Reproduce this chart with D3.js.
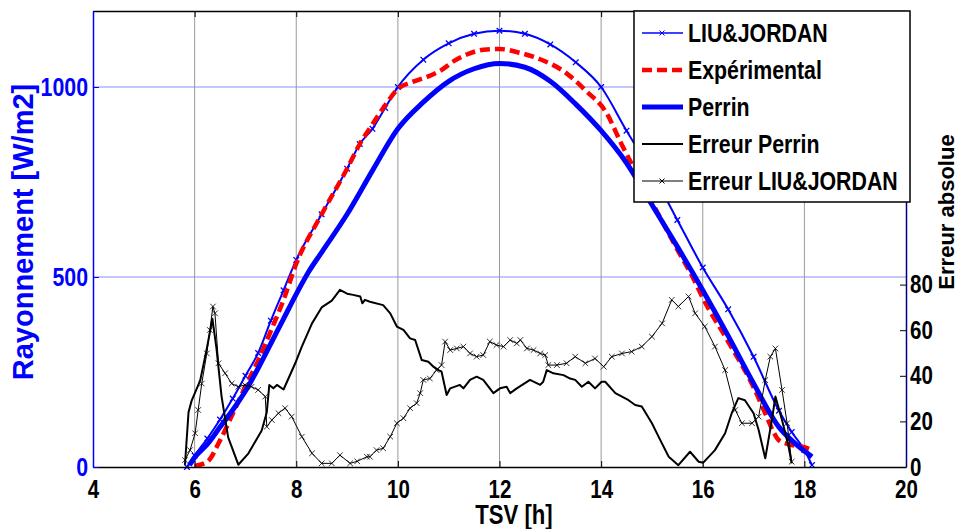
<!DOCTYPE html>
<html>
<head>
<meta charset="utf-8">
<script src="https://cdn.jsdelivr.net/npm/d3@7"></script>
<style>
  html, body { margin: 0; padding: 0; background: #fff; }
  svg { display: block; }
  text { font-family: "Liberation Sans", Arial, sans-serif; font-weight: bold; }
</style>
</head>
<body>
<svg id="chart"></svg>
<script>
'use strict';

const WIDTH = 959;
const HEIGHT = 529;
const M = { left: 93, top: 11, right: 53, bottom: 62 };
// la police d'origine est étroite : on resserre les textes de ce facteur
const NARROW = 0.82;

// TSV [h] ticks and axis ranges
const X_TICKS = [4, 6, 8, 10, 12, 14, 16, 18, 20];
const Y_LEFT_TICKS = [0, 500, 1000];
const Y_RIGHT_TICKS = [0, 20, 40, 60, 80];

// rayonnement [W/m2], [TSV, valeur]
const liuJordan = [
  [5.85, 0], [6.0, 30], [6.25, 75], [6.5, 125], [6.75, 180], [7.0, 240], [7.25, 300],
  [7.5, 385], [7.75, 465], [8.0, 545], [8.5, 665], [9.0, 785], [9.25, 850], [9.5, 890],
  [9.75, 945], [10.0, 1000], [10.5, 1072], [11.0, 1115], [11.5, 1140], [12.0, 1148],
  [12.5, 1140], [13.0, 1112], [13.5, 1065], [14.0, 1000], [14.5, 885], [15.0, 775],
  [15.5, 650], [16.0, 525], [16.5, 415], [17.0, 290], [17.5, 148], [17.75, 92],
  [18.0, 45], [18.15, 5]
];

const experimental = [
  [6.0, 3], [6.25, 14], [6.5, 70], [6.75, 140], [7.0, 212], [7.25, 280], [7.5, 358],
  [7.75, 440], [8.0, 535], [8.5, 665], [9.0, 785], [9.25, 850], [9.5, 902], [9.75, 952],
  [10.0, 995], [10.3, 1014], [10.6, 1028], [10.85, 1044], [11.1, 1068], [11.4, 1088],
  [11.75, 1099], [12.0, 1100], [12.4, 1090], [12.8, 1073], [13.3, 1038], [13.7, 990],
  [14.1, 933], [14.4, 850], [14.75, 760], [15.0, 697], [15.5, 572], [15.8, 500],
  [16.0, 445], [16.5, 330], [17.0, 210], [17.25, 135], [17.4, 90], [17.5, 70],
  [17.75, 58], [18.0, 52], [18.15, 45]
];

const perrin = [
  [5.9, 5], [6.0, 25], [6.25, 60], [6.5, 105], [6.75, 150], [7.0, 200], [7.25, 260],
  [7.5, 325], [7.75, 390], [8.0, 455], [8.25, 515], [8.5, 565], [9.0, 665], [9.5, 780],
  [10.0, 890], [10.5, 960], [11.0, 1015], [11.5, 1048], [12.0, 1062], [12.5, 1052],
  [13.0, 1015], [13.5, 955], [14.0, 885], [14.5, 800], [15.0, 690], [15.5, 580],
  [16.0, 465], [16.5, 345], [17.0, 220], [17.5, 105], [17.75, 70], [18.0, 42], [18.15, 27]
];

// erreur absolue (axe de droite)
const erreurPerrin = [
  [5.81, 1], [5.88, 24], [5.94, 29], [6.11, 38], [6.24, 52], [6.35, 65], [6.43, 52],
  [6.53, 31], [6.66, 13], [6.86, 1], [7.06, 6], [7.32, 16], [7.42, 24], [7.47, 36],
  [7.55, 34.5], [7.62, 36], [7.75, 34], [7.98, 45.5], [8.11, 52.8], [8.31, 63], [8.5, 70],
  [8.7, 73], [8.86, 77.7], [9.0, 76], [9.12, 75.5], [9.26, 74.8], [9.3, 71.8], [9.35, 73.3],
  [9.45, 72.5], [9.71, 71], [9.85, 67.4], [9.98, 61.6], [10.11, 60.1], [10.24, 56.4],
  [10.34, 55.7], [10.47, 46.9], [10.6, 46.2], [10.7, 44], [10.8, 42.5], [10.86, 41.8],
  [10.96, 31.6], [11.03, 34.5], [11.22, 36], [11.29, 34.5], [11.42, 38.2], [11.55, 39.6],
  [11.68, 38.2], [11.88, 32.4], [12.01, 34.5], [12.14, 35.2], [12.21, 32.4], [12.34, 34.5],
  [12.6, 38.2], [12.8, 36], [12.86, 37.4], [12.93, 42.5], [13.06, 41.1], [13.26, 40.3],
  [13.39, 38.8], [13.49, 38.2], [13.62, 35.2], [13.75, 37.4], [13.88, 34.5], [14.01, 37.4],
  [14.08, 37.4], [14.28, 32.4], [14.54, 29.3], [14.67, 27.2], [14.8, 26.5], [15.0, 19.2],
  [15.13, 13.3], [15.33, 4.5], [15.52, 0.8], [15.75, 6.7], [15.92, 2.3], [16.01, 1.9],
  [16.24, 7.4], [16.44, 14.8], [16.57, 23.6], [16.7, 30.2], [16.83, 29.3], [17.0, 23.6],
  [17.1, 16.2], [17.23, 3.8], [17.36, 20.6], [17.43, 30.9], [17.56, 20.6], [17.69, 8.9],
  [17.75, 1.6]
];

const erreurLiu = [
  [5.81, 3], [5.91, 7.4], [6.01, 14.8], [6.07, 25], [6.14, 36.6], [6.24, 49.8], [6.3, 60.1],
  [6.36, 70.4], [6.4, 67.4], [6.47, 45.5], [6.6, 41.1], [6.73, 36.6], [6.86, 35.2],
  [6.99, 36], [7.12, 35.2], [7.25, 33.8], [7.39, 30.9], [7.42, 17.7], [7.52, 20.6],
  [7.65, 23.6], [7.78, 25.8], [7.91, 22.1], [8.11, 13.3], [8.31, 6], [8.5, 1.6], [8.7, 1.6],
  [8.86, 5.2], [9.06, 1.6], [9.2, 2.5], [9.39, 4.5], [9.45, 4.5], [9.58, 7.4], [9.71, 8.2],
  [9.85, 13.3], [9.98, 19.2], [10.11, 21.4], [10.24, 25.8], [10.37, 28], [10.44, 32.4],
  [10.5, 38.2], [10.63, 38.8], [10.76, 42.5], [10.86, 44.7], [10.93, 55], [11.03, 51.3],
  [11.16, 52], [11.29, 52.8], [11.42, 49.8], [11.55, 48.4], [11.68, 49.1], [11.81, 55],
  [11.94, 53.5], [12.08, 52.8], [12.21, 55.7], [12.34, 54.2], [12.41, 55.7], [12.54, 52],
  [12.67, 51.3], [12.8, 49.8], [12.9, 49.1], [12.96, 44.7], [13.13, 44.7], [13.32, 45.5],
  [13.49, 48.4], [13.69, 45.5], [13.88, 47.6], [14.05, 44], [14.21, 48.4], [14.41, 49.8],
  [14.6, 50.6], [14.8, 52.8], [15.0, 57.2], [15.2, 63], [15.39, 73.3], [15.52, 70.4],
  [15.72, 74.8], [15.85, 67.4], [16.04, 61.6], [16.24, 52.8], [16.44, 42.5], [16.64, 25],
  [16.77, 19.2], [16.97, 19.2], [17.1, 22.1], [17.23, 38.1], [17.33, 48.4], [17.43, 52],
  [17.56, 33.8], [17.66, 19.2], [17.75, 2.3]
];

const LEGEND = [
  { label: 'LIU&JORDAN', color: '#0000ff', width: 1.5, marker: true },
  { label: 'Expérimental', color: '#ff0000', width: 4.5, dash: '10,5' },
  { label: 'Perrin', color: '#0000ff', width: 5 },
  { label: 'Erreur Perrin', color: '#000', width: 2 },
  { label: 'Erreur LIU&JORDAN', color: '#000', width: 1, marker: true },
];

const BLUE = '#0000ff';
const NAVY = '#00007f';

const x = d3.scaleLinear().domain([4, 20]).range([M.left, WIDTH - M.right]);
const yL = d3.scaleLinear().domain([0, 1200]).range([HEIGHT - M.bottom, M.top]);
const yR = d3.scaleLinear().domain([0, 200]).range([HEIGHT - M.bottom, M.top]);

const svg = d3.select('#chart').attr('width', WIDTH).attr('height', HEIGHT);

function xMark(size) {
  return `M${-size},${-size}L${size},${size}M${-size},${size}L${size},${-size}`;
}

function squeeze(sel) {
  sel.each(function () {
    const w = this.getComputedTextLength();
    d3.select(this).attr('textLength', w * NARROW).attr('lengthAdjust', 'spacingAndGlyphs');
  });
}

// grille
const grid = svg.append('g');
grid.selectAll('line.v').data(X_TICKS.slice(1, -1)).join('line')
  .attr('x1', d => x(d)).attr('x2', d => x(d))
  .attr('y1', M.top).attr('y2', HEIGHT - M.bottom)
  .attr('stroke', '#9a9a9a').attr('stroke-width', 1);
grid.selectAll('line.h').data([500, 1000]).join('line')
  .attr('x1', M.left).attr('x2', WIDTH - M.right)
  .attr('y1', d => yL(d)).attr('y2', d => yL(d))
  .attr('stroke', '#8c8cff').attr('stroke-width', 1);

// courbes de rayonnement
const lineL = d3.line().x(d => x(d[0])).y(d => yL(d[1])).curve(d3.curveMonotoneX);
const lineR = d3.line().x(d => x(d[0])).y(d => yR(d[1]));

svg.append('path').datum(liuJordan).attr('d', lineL)
  .attr('fill', 'none').attr('stroke', BLUE).attr('stroke-width', 2);
svg.append('g').selectAll('path').data(liuJordan).join('path')
  .attr('transform', d => `translate(${x(d[0])},${yL(d[1])})`)
  .attr('d', xMark(2.8)).attr('stroke', BLUE).attr('stroke-width', 1.3).attr('fill', 'none');

svg.append('path').datum(experimental).attr('d', lineL)
  .attr('fill', 'none').attr('stroke', '#ff0000').attr('stroke-width', 4.5)
  .attr('stroke-dasharray', '10,5');

svg.append('path').datum(perrin).attr('d', lineL)
  .attr('fill', 'none').attr('stroke', BLUE).attr('stroke-width', 5);

// erreurs
svg.append('path').datum(erreurPerrin).attr('d', lineR)
  .attr('fill', 'none').attr('stroke', '#000').attr('stroke-width', 2)
  .attr('stroke-linejoin', 'round');

svg.append('path').datum(erreurLiu).attr('d', lineR)
  .attr('fill', 'none').attr('stroke', '#000').attr('stroke-width', 1);
svg.append('g').selectAll('path').data(erreurLiu).join('path')
  .attr('transform', d => `translate(${x(d[0])},${yR(d[1])})`)
  .attr('d', xMark(2.8)).attr('stroke', '#000').attr('stroke-width', 0.8).attr('fill', 'none');

// axes
const fmt = d3.format('d');

const axBottom = svg.append('g').attr('transform', `translate(0,${HEIGHT - M.bottom})`)
  .call(d3.axisBottom(x).tickValues(X_TICKS).tickFormat(fmt)
    .tickSizeInner(-6).tickSizeOuter(0).tickPadding(13));
axBottom.select('.domain').attr('stroke', '#000').attr('stroke-width', 1.5);
axBottom.selectAll('text').attr('font-size', 25).attr('fill', '#000').call(squeeze);

const axTop = svg.append('g').attr('transform', `translate(0,${M.top})`)
  .call(d3.axisTop(x).tickValues(X_TICKS).tickFormat('').tickSizeInner(-6).tickSizeOuter(0));
axTop.select('.domain').attr('stroke', '#000').attr('stroke-width', 1.5);

const axLeft = svg.append('g').attr('transform', `translate(${M.left},0)`)
  .call(d3.axisLeft(yL).tickValues(Y_LEFT_TICKS).tickFormat(fmt)
    .tickSizeInner(-6).tickSizeOuter(0).tickPadding(5));
axLeft.select('.domain').attr('stroke', BLUE).attr('stroke-width', 1.5);
axLeft.selectAll('.tick line').attr('stroke', BLUE);
axLeft.selectAll('text').attr('font-size', 26).attr('fill', BLUE).call(squeeze);

const axRight = svg.append('g').attr('transform', `translate(${WIDTH - M.right},0)`)
  .call(d3.axisRight(yR).tickValues(Y_RIGHT_TICKS).tickFormat(fmt)
    .tickSizeInner(-6).tickSizeOuter(0).tickPadding(4));
axRight.select('.domain').attr('stroke', NAVY).attr('stroke-width', 1.5);
axRight.selectAll('.tick line').attr('stroke', '#000');
axRight.selectAll('text').attr('font-size', 25).attr('fill', '#000').call(squeeze);

// titres
svg.append('text')
  .attr('transform', 'translate(33,232) rotate(-90)')
  .attr('text-anchor', 'middle').attr('font-size', 29).attr('fill', BLUE)
  .text('Rayonnement [W/m2]');

svg.append('text')
  .attr('transform', 'translate(954,212) rotate(-90)')
  .attr('text-anchor', 'middle').attr('font-size', 22).attr('fill', '#000')
  .text('Erreur absolue');

svg.append('text')
  .attr('x', 514).attr('y', 524)
  .attr('text-anchor', 'middle').attr('font-size', 27).attr('fill', '#000')
  .text('TSV [h]').call(squeeze);

// légende
const lg = svg.append('g').attr('transform', 'translate(634,11)');
lg.append('rect').attr('width', 276).attr('height', 191)
  .attr('fill', '#fff').attr('stroke', '#000').attr('stroke-width', 1.5);
LEGEND.forEach((item, i) => {
  const cy = 22 + i * 37;
  lg.append('line').attr('x1', 8).attr('x2', 49).attr('y1', cy).attr('y2', cy)
    .attr('stroke', item.color).attr('stroke-width', item.width)
    .attr('stroke-dasharray', item.dash || null);
  if (item.marker) {
    lg.append('path').attr('transform', `translate(28,${cy})`).attr('d', xMark(2.5))
      .attr('stroke', item.color).attr('stroke-width', 1).attr('fill', 'none');
  }
  lg.append('text')
    .attr('x', 54).attr('y', cy).attr('dy', '0.36em')
    .attr('font-size', 26).attr('fill', '#000')
    .text(item.label).call(squeeze);
});
</script>
</body>
</html>
